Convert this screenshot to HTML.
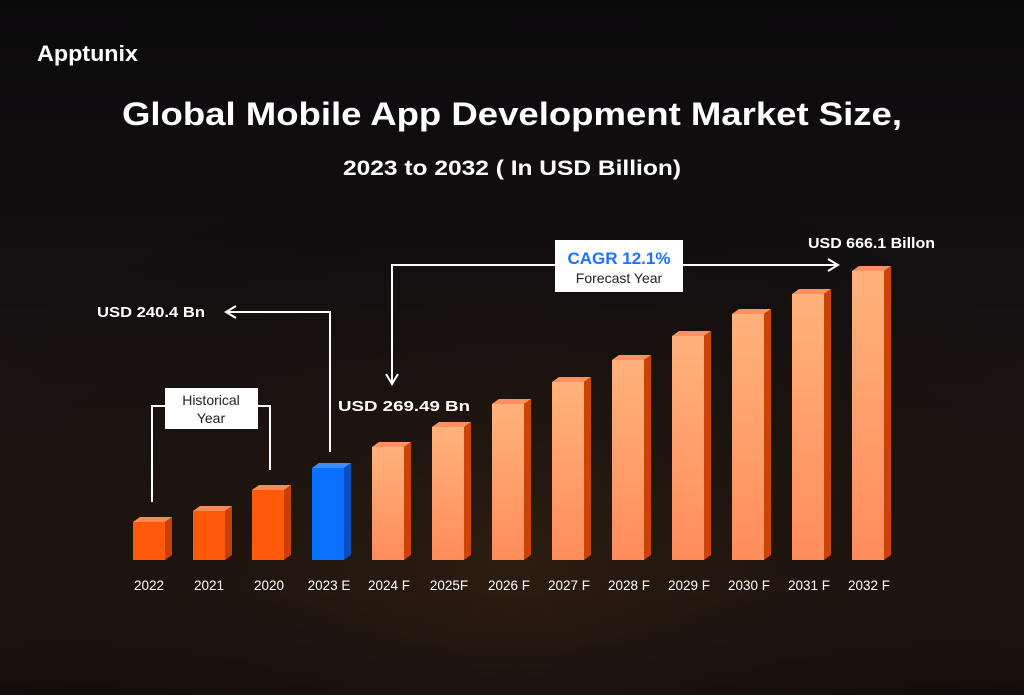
<!DOCTYPE html>
<html><head><meta charset="utf-8"><style>
html,body{margin:0;padding:0;background:#0d0b0b;}
svg{display:block;font-family:"Liberation Sans",sans-serif;}
</style></head><body>
<svg width="1024" height="695" viewBox="0 0 1024 695" xmlns="http://www.w3.org/2000/svg">
<defs>
<linearGradient id="bg" x1="0" y1="0" x2="0" y2="1">
<stop offset="0" stop-color="#0b0a0b"/><stop offset="0.4" stop-color="#141012"/><stop offset="0.65" stop-color="#1c1410"/><stop offset="0.85" stop-color="#21160f"/><stop offset="1" stop-color="#150f0c"/>
</linearGradient>
<radialGradient id="glow" cx="0.5" cy="0.8" r="0.6"><stop offset="0" stop-color="#3a2414" stop-opacity="0.5"/><stop offset="1" stop-color="#000" stop-opacity="0"/></radialGradient>
<linearGradient id="fc" x1="0" y1="0" x2="0" y2="1"><stop offset="0" stop-color="#ffb27a"/><stop offset="1" stop-color="#ff8c5c"/></linearGradient>
</defs>
<rect width="1024" height="695" fill="url(#bg)"/>
<rect width="1024" height="695" fill="url(#glow)"/>
<text x="37" y="61" fill="#fff" font-size="22" font-weight="bold" textLength="101" lengthAdjust="spacingAndGlyphs">Apptunix</text>
<text x="122" y="125" fill="#fff" font-size="32" font-weight="bold" textLength="780" lengthAdjust="spacingAndGlyphs">Global Mobile App Development Market Size,</text>
<text x="343" y="175" fill="#fff" font-size="21" font-weight="bold" textLength="338" lengthAdjust="spacingAndGlyphs">2023 to 2032 ( In USD Billion)</text>
<g fill="none" stroke="#fff" stroke-width="2">
<path d="M330 452 V312 H228"/><path d="M236 306 L226 312 L236 318"/>
<path d="M152 502 V406 H166"/><path d="M257 406 H270 V470"/>
<path d="M392 382 V265 H556"/><path d="M683 265 H836"/><path d="M828 259 L838 265 L828 271"/><path d="M386 374 L392 384 L398 374"/>
</g>
<rect x="165" y="388" width="93" height="41" fill="#fff"/>
<text x="211" y="405" font-size="14" text-anchor="middle" fill="#222">Historical</text>
<text x="211" y="423" font-size="14" text-anchor="middle" fill="#222">Year</text>
<rect x="555" y="240" width="128" height="52" fill="#fff"/>
<text x="619" y="264" font-size="17" font-weight="bold" text-anchor="middle" fill="#1a73ff">CAGR 12.1%</text>
<text x="619" y="283" font-size="14" text-anchor="middle" fill="#222">Forecast Year</text>
<g fill="#fff" font-weight="bold" font-size="15">
<text x="97" y="317" textLength="108" lengthAdjust="spacingAndGlyphs">USD 240.4 Bn</text>
<text x="338" y="411" textLength="132" lengthAdjust="spacingAndGlyphs">USD 269.49 Bn</text>
<text x="808" y="248" textLength="127" lengthAdjust="spacingAndGlyphs">USD 666.1 Billon</text>
</g>
<g fill="#fff" font-size="13.5" text-anchor="middle">
<text x="149" y="590">2022</text><text x="209" y="590">2021</text><text x="269" y="590">2020</text><text x="329" y="590">2023 E</text>
<text x="389" y="590">2024 F</text><text x="449" y="590">2025F</text><text x="509" y="590">2026 F</text><text x="569" y="590">2027 F</text>
<text x="629" y="590">2028 F</text><text x="689" y="590">2029 F</text><text x="749" y="590">2030 F</text><text x="809" y="590">2031 F</text><text x="869" y="590">2032 F</text>
</g>
<g>
<polygon points="133,522 140,517 172,517 165,522" fill="#ff8a55"/><rect x="133" y="522" width="32" height="38" fill="#ff5a0a"/><polygon points="165,522 172,517 172,555 165,560" fill="#c94006"/>
<polygon points="193,511 200,506 232,506 225,511" fill="#ff8a55"/><rect x="193" y="511" width="32" height="49" fill="#ff5a0a"/><polygon points="225,511 232,506 232,555 225,560" fill="#c94006"/>
<polygon points="252,490 259,485 291,485 284,490" fill="#ff8a55"/><rect x="252" y="490" width="32" height="70" fill="#ff5a0a"/><polygon points="284,490 291,485 291,555 284,560" fill="#c94006"/>
<polygon points="312,468 319,463 351,463 344,468" fill="#3d8fff"/><rect x="312" y="468" width="32" height="92" fill="#0a70ff"/><polygon points="344,468 351,463 351,555 344,560" fill="#0a4fc0"/>
<polygon points="372,447 379,442 411,442 404,447" fill="#ff9060"/><rect x="372" y="447" width="32" height="113" fill="url(#fc)"/><polygon points="404,447 411,442 411,555 404,560" fill="#cc4306"/>
<polygon points="432,427 439,422 471,422 464,427" fill="#ff9060"/><rect x="432" y="427" width="32" height="133" fill="url(#fc)"/><polygon points="464,427 471,422 471,555 464,560" fill="#cc4306"/>
<polygon points="492,404 499,399 531,399 524,404" fill="#ff9060"/><rect x="492" y="404" width="32" height="156" fill="url(#fc)"/><polygon points="524,404 531,399 531,555 524,560" fill="#cc4306"/>
<polygon points="552,382 559,377 591,377 584,382" fill="#ff9060"/><rect x="552" y="382" width="32" height="178" fill="url(#fc)"/><polygon points="584,382 591,377 591,555 584,560" fill="#cc4306"/>
<polygon points="612,360 619,355 651,355 644,360" fill="#ff9060"/><rect x="612" y="360" width="32" height="200" fill="url(#fc)"/><polygon points="644,360 651,355 651,555 644,560" fill="#cc4306"/>
<polygon points="672,336 679,331 711,331 704,336" fill="#ff9060"/><rect x="672" y="336" width="32" height="224" fill="url(#fc)"/><polygon points="704,336 711,331 711,555 704,560" fill="#cc4306"/>
<polygon points="732,314 739,309 771,309 764,314" fill="#ff9060"/><rect x="732" y="314" width="32" height="246" fill="url(#fc)"/><polygon points="764,314 771,309 771,555 764,560" fill="#cc4306"/>
<polygon points="792,294 799,289 831,289 824,294" fill="#ff9060"/><rect x="792" y="294" width="32" height="266" fill="url(#fc)"/><polygon points="824,294 831,289 831,555 824,560" fill="#cc4306"/>
<polygon points="852,271 859,266 891,266 884,271" fill="#ff9060"/><rect x="852" y="271" width="32" height="289" fill="url(#fc)"/><polygon points="884,271 891,266 891,555 884,560" fill="#cc4306"/>
</g>
</svg>
</body></html>
